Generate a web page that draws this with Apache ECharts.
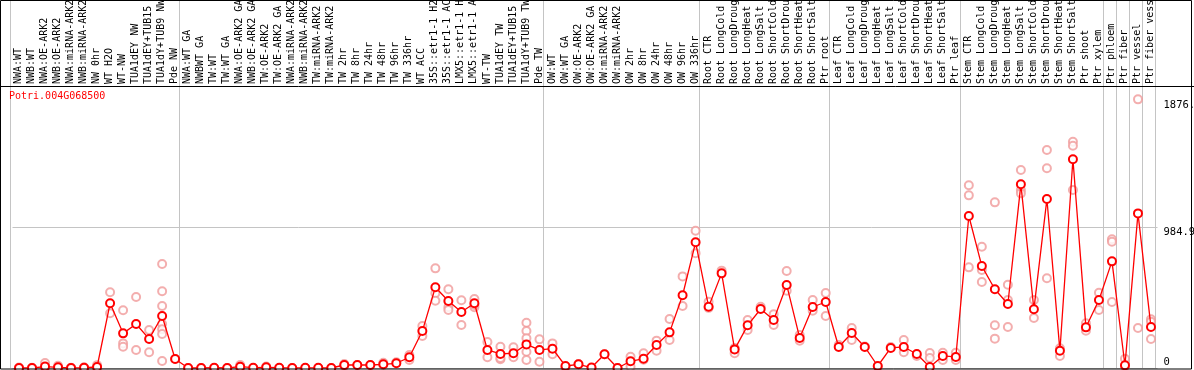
<!DOCTYPE html>
<html>
<head>
<meta charset="utf-8">
<title>Potri.004G068500</title>
<script src="https://cdn.jsdelivr.net/npm/echarts@6/dist/echarts.min.js"></script>
<style>
html, body { margin: 0; padding: 0; background: #fff; overflow: hidden; }
#echart1 { width: 1194px; height: 370px; }
</style>
</head>
<body>
<div id="echart1"></div>
<script>
var geneName = 'Potri.004G068500';

var categories = [
    'NWA:WT', 'NWB:WT', 'NWA:OE-ARK2', 'NWB:OE-ARK2', 'NWA:miRNA-ARK2', 'NWB:miRNA-ARK2', 'NW 0hr', 'WT H2O', 'WT-NW',
    'TUA1dEY NW', 'TUA1dEY+TUB15 NW', 'TUA1dY+TUB9 NW', 'Pde NW',
    'NWA:WT GA', 'NWBWT GA', 'TW:WT', 'TW:WT GA', 'NWA:OE-ARK2 GA', 'NWB:OE-ARK2 GA', 'TW:OE-ARK2', 'TW:OE-ARK2 GA',
    'NWA:miRNA-ARK2 GA', 'NWB:miRNA-ARK2 GA', 'TW:miRNA-ARK2', 'TW:miRNA-ARK2 GA', 'TW 2hr', 'TW 8hr', 'TW 24hr', 'TW 48hr',
    'TW 96hr', 'TW 336hr', 'WT ACC', '35S::etr1-1 H2O', '35S::etr1-1 ACC', 'LMX5::etr1-1 H2O', 'LMX5::etr1-1 ACC', 'WT-TW',
    'TUA1dEY TW', 'TUA1dEY+TUB15 TW', 'TUA1dY+TUB9 TW', 'Pde TW',
    'OW:WT', 'OW:WT GA', 'OW:OE-ARK2', 'OW:OE-ARK2 GA', 'OW:miRNA-ARK2', 'OW:miRNA-ARK2 GA', 'OW 2hr', 'OW 8hr', 'OW 24hr',
    'OW 48hr', 'OW 96hr', 'OW 336hr',
    'Root CTR', 'Root LongCold', 'Root LongDrought', 'Root LongHeat', 'Root LongSalt', 'Root ShortCold', 'Root ShortDrought',
    'Root ShortHeat', 'Root ShortSalt', 'Ptr root',
    'Leaf CTR', 'Leaf LongCold', 'Leaf LongDrought', 'Leaf LongHeat', 'Leaf LongSalt', 'Leaf ShortCold', 'Leaf ShortDrought',
    'Leaf ShortHeat', 'Leaf ShortSalt', 'Ptr leaf',
    'Stem CTR', 'Stem LongCold', 'Stem LongDrought', 'Stem LongHeat', 'Stem LongSalt', 'Stem ShortCold', 'Stem ShortDrought',
    'Stem ShortHeat', 'Stem ShortSalt', 'Ptr shoot', 'Ptr xylem',
    'Ptr phloem', 'Ptr fiber', 'Ptr vessel', 'Ptr fiber vessel'
];

// mean expression per sample
var meanValues = [
    0, 0, 10, 5, 0, 2, 7, 452, 242, 307, 203, 363, 63,
    0, 0, 2, 0, 9, 2, 5, 2, 0, 1, 1, 0, 21, 21, 21, 26, 33, 75, 258, 564, 468, 391, 452, 126, 98, 103, 165, 126,
    135, 14, 26, 3, 96, 0, 47, 65, 161, 249, 508, 878,
    428, 661, 130, 298, 412, 335, 580, 210, 426, 461,
    147, 244, 147, 14, 140, 147, 98, 7, 84, 77,
    1062, 712, 550, 447, 1283, 410, 1180, 121, 1458, 284, 475,
    745, 19, 1080, 286
];

// single replicates per sample
var replicateValues = [
    [0, 3], [0, 2], [35, 2], [15, 0], [0, 2], [5, 0], [20, 0], [529, 382], [403, 172, 149],
    [496, 126], [265, 110], [726, 536, 433, 307, 270, 237, 49], [63],
    [0], [0], [0], [0], [21, 0], [0], [10], [0], [0], [0], [0], [0], [28, 14], [21], [21], [37, 21],
    [40], [56, 90], [293, 223], [696, 522, 470], [550, 424, 405], [473, 300], [482, 424, 440], [182, 75],
    [149, 61, 70], [145, 75], [316, 258, 207, 114, 56], [200, 44],
    [172, 96], [5], [28], [0], [96], [0], [79, 9], [103, 58], [191, 121],
    [342, 196], [640, 433], [959, 801],
    [463, 420], [680], [103, 140], [335, 265], [428], [375, 300], [677, 540],
    [230, 190], [475, 400], [524, 363],
    [160], [279, 196], [150], [10], [147], [196, 110], [84],
    [105, 70], [107, 56], [107, 56],
    [1276, 1206, 703], [847, 685, 601], [1157, 298, 205], [582, 475, 286], [1383, 1243, 1220], [475, 349], [1523, 1395, 627],
    [138, 84], [1581, 1553, 1243], [312, 261], [526, 405],
    [899, 882, 461], [65, 10], [1876.4, 279], [340, 323, 203]
];

var yTicks = [0, 984.9, 1876.4];
var yMax = 1969.8;

// sample index where a new block of samples starts
var groupStarts = [0, 13, 41, 53, 63, 73, 84, 85, 86, 87, 88];

drawChart();

function drawChart() {
    var myChart = echarts.init(document.getElementById('echart1'));

    var repData = [];
    replicateValues.forEach(function (reps, i) {
        reps.forEach(function (v) {
            repData.push([i, v]);
        });
    });

    var mono = 'DejaVu Sans Mono';
    var gray = '#c4c4c4';

option = {
    animation: false,
    backgroundColor: '#fff',
    title: {
        text: geneName,
        left: 9,
        top: 91,
        padding: 0,
        textStyle: {
            color: '#ff0000',
            fontFamily: mono,
            fontSize: 10,
            fontWeight: 'normal'
        }
    },
    grid: [
        // block separators, full height
        { left: 10, right: 39, top: 0, bottom: 2, outerBoundsMode: 'none' },
        // plot
        { left: 12.5, right: 36.5, top: 86, bottom: 2, outerBoundsMode: 'none' },
        // sample names
        { left: 12, right: 37, top: 0, height: 86, outerBoundsMode: 'none' }
    ],
    xAxis: [{
        gridIndex: 0,
        type: 'category',
        data: categories,
        boundaryGap: true,
        axisLine: { show: false },
        axisTick: { show: false },
        axisLabel: { show: false },
        splitLine: {
            show: true,
            interval: function (index) {
                return groupStarts.indexOf(index) >= 0;
            },
            lineStyle: { color: gray, width: 1 }
        }
    }, {
        gridIndex: 1,
        type: 'category',
        data: categories,
        boundaryGap: true,
        axisLine: { show: false },
        axisTick: { show: false },
        axisLabel: { show: false },
        splitLine: { show: false }
    }, {
        gridIndex: 2,
        type: 'category',
        data: categories,
        position: 'bottom',
        boundaryGap: true,
        axisLine: { show: false },
        axisTick: { show: false },
        axisLabel: {
            inside: true,
            rotate: 90,
            interval: 0,
            margin: 2,
            color: '#000',
            fontFamily: mono,
            fontSize: 10
        },
        splitLine: { show: false }
    }],
    yAxis: [{
        gridIndex: 0,
        type: 'value',
        position: 'right',
        min: 0,
        max: 1,
        axisLine: { show: true, lineStyle: { color: gray } },
        axisTick: { show: false },
        axisLabel: { show: false },
        splitLine: { show: false }
    }, {
        gridIndex: 1,
        type: 'value',
        position: 'right',
        min: 0,
        max: yMax,
        interval: yMax / 2,
        axisLine: { show: false },
        axisTick: { show: false },
        splitLine: { lineStyle: { color: gray, width: 1 } },
        axisLabel: {
            customValues: yTicks.slice(1),
            formatter: function (v) { return String(v); },
            verticalAlign: 'top',
            margin: 6,
            color: '#000',
            fontFamily: mono,
            fontSize: 10.5
        }
    }, {
        gridIndex: 1,
        type: 'value',
        position: 'right',
        min: 0,
        max: yMax,
        interval: yMax / 2,
        axisLine: { show: false },
        axisTick: { show: false },
        splitLine: { show: false },
        axisLabel: {
            customValues: yTicks.slice(0, 1),
            formatter: function (v) { return String(v); },
            verticalAlign: 'bottom',
            margin: 6,
            color: '#000',
            fontFamily: mono,
            fontSize: 10.5
        }
    }, {
        gridIndex: 2,
        type: 'value',
        min: 0,
        max: 1,
        show: false
    }],
    graphic: [{
        type: 'rect',
        shape: { x: 0.5, y: 0.5, width: 1191, height: 368.5 },
        style: { fill: 'none', stroke: '#000', lineWidth: 1 },
        z: 100
    }, {
        type: 'line',
        shape: { x1: 0, y1: 86.5, x2: 1194, y2: 86.5 },
        style: { stroke: '#000', lineWidth: 1 },
        z: 100
    }],
    series: [{
        name: 'replicates',
        type: 'scatter',
        xAxisIndex: 1,
        yAxisIndex: 1,
        symbol: 'emptyCircle',
        symbolSize: 8,
        itemStyle: { color: '#f09a9a', borderWidth: 1.2 },
        data: repData,
        z: 2
    }, {
        name: 'mean',
        type: 'line',
        xAxisIndex: 1,
        yAxisIndex: 1,
        symbol: 'emptyCircle',
        symbolSize: 8,
        showAllSymbol: true,
        lineStyle: { color: '#ff0000', width: 1.3 },
        itemStyle: { color: '#ff0000', borderWidth: 1.6 },
        data: meanValues,
        z: 3
    }]
};
        myChart.setOption(option);
        window.addEventListener("resize", function () {
            myChart.resize();
        });
}
</script>
</body>
</html>
